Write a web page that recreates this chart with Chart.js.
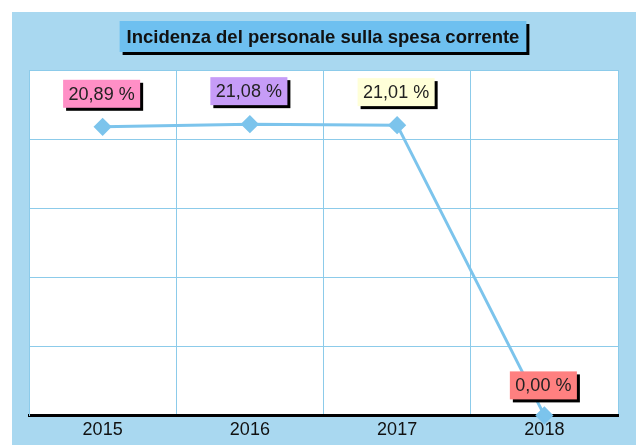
<!DOCTYPE html>
<html>
<head>
<meta charset="utf-8">
<script src="https://cdn.jsdelivr.net/npm/chart.js@4/dist/chart.umd.min.js"></script>
<style>
  html, body { margin: 0; padding: 0; background: #ffffff; }
  #wrap { width: 636px; height: 445px; position: relative; }
</style>
</head>
<body>
<div id="wrap"><canvas id="c" width="636" height="445"></canvas></div>
<script>
const chartTitle = 'Incidenza del personale sulla spesa corrente';
const categories = ['2015', '2016', '2017', '2018'];
const values = [20.89, 21.08, 21.01, 0.00];
const valueLabels = ['20,89 %', '21,08 %', '21,01 %', '0,00 %'];
const labelColors = ['#ff8fc6', '#c69cf7', '#ffffd8', '#ff8080'];
const yTicks = [0, 5, 10, 15, 20, 25];

const BG = '#a9d8f0';
const GRID = '#8ccbea';
const LINE = '#7cc4ec';

const decor = {
  id: 'decor',
  beforeDraw(chart) {
    const ctx = chart.ctx, a = chart.chartArea;
    ctx.save();
    ctx.fillStyle = '#ffffff';
    ctx.fillRect(0, 0, chart.width, chart.height);
    ctx.fillStyle = BG;
    ctx.fillRect(12, 12, chart.width - 12, chart.height - 12);
    ctx.fillStyle = '#ffffff';
    ctx.fillRect(a.left, a.top, a.right - a.left, a.bottom - a.top);
    // title box
    ctx.font = 'bold 18.5px "Liberation Sans", Arial, sans-serif';
    const tw = ctx.measureText(chartTitle).width;
    const cx = 323;
    const bw = tw + 14, bh = 31;
    const bx = cx - bw / 2, by = 21;
    ctx.fillStyle = '#000000';
    ctx.fillRect(bx + 3, by + 3, bw, bh);
    ctx.fillStyle = '#6ec0f0';
    ctx.fillRect(bx, by, bw, bh);
    ctx.fillStyle = '#111111';
    ctx.textAlign = 'center';
    ctx.textBaseline = 'middle';
    ctx.fillText(chartTitle, cx, by + bh / 2 + 1);
    ctx.restore();
  },
  afterDatasetsDraw(chart) {
    const ctx = chart.ctx;
    const meta = chart.getDatasetMeta(0);
    ctx.save();
    ctx.font = '18px "Liberation Sans", Arial, sans-serif';
    ctx.textAlign = 'center';
    ctx.textBaseline = 'middle';
    meta.data.forEach((pt, i) => {
      const txt = valueLabels[i];
      const tw = ctx.measureText(txt).width;
      const bw = tw + 11, bh = 28;
      const cx = pt.x - 1;
      const cy = pt.y - (i === 3 ? 30 : 33);
      const bx = cx - bw / 2, by = cy - bh / 2;
      ctx.fillStyle = '#000000';
      ctx.fillRect(bx + 3, by + 3, bw, bh);
      ctx.fillStyle = labelColors[i];
      ctx.fillRect(bx, by, bw, bh);
      ctx.fillStyle = '#222222';
      ctx.fillText(txt, cx, cy + 1);
    });
    ctx.restore();
  }
};

new Chart(document.getElementById('c'), {
  type: 'line',
  data: {
    labels: categories,
    datasets: [{
      data: values,
      borderColor: LINE,
      backgroundColor: LINE,
      borderWidth: 3,
      pointStyle: 'rectRot',
      pointRadius: 7,
      pointHoverRadius: 7,
      pointBackgroundColor: LINE,
      pointBorderColor: LINE,
      tension: 0,
      clip: false
    }]
  },
  options: {
    responsive: false,
    animation: false,
    devicePixelRatio: 1,
    layout: { padding: { left: 29, right: 18, top: 70, bottom: 0 } },
    plugins: { legend: { display: false }, title: { display: false }, tooltip: { enabled: false } },
    scales: {
      x: {
        offset: true,
        grid: { offset: true, color: GRID, lineWidth: 1, drawTicks: false },
        border: { display: true, color: '#000000', width: 3 },
        ticks: { color: '#111111', padding: 4, font: { family: '"Liberation Sans", Arial, sans-serif', size: 18 } }
      },
      y: {
        min: 0, max: 25,
        afterBuildTicks(scale) { scale.ticks = yTicks.map(v => ({ value: v })); },
        grid: { color: GRID, lineWidth: 1, drawTicks: false },
        border: { display: true, color: GRID, width: 1 },
        ticks: { display: false }
      }
    }
  },
  plugins: [decor]
});
</script>
</body>
</html>
